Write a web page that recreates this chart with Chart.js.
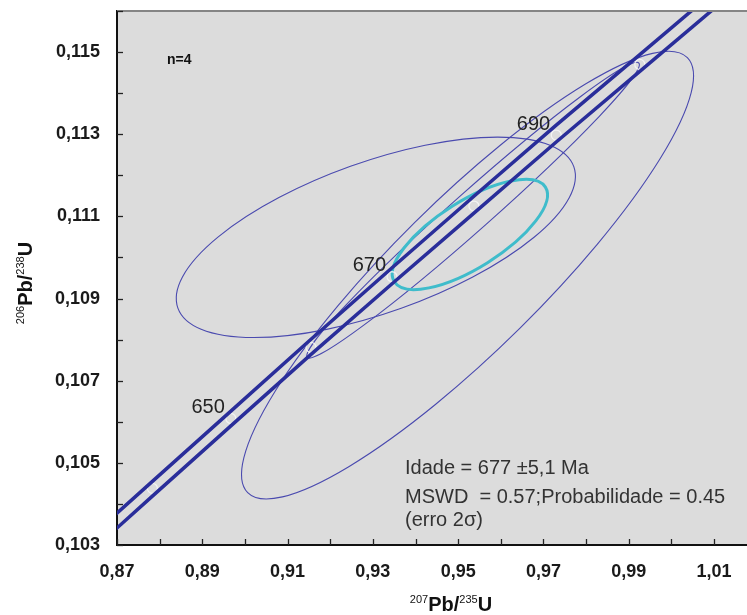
<!DOCTYPE html>
<html>
<head>
<meta charset="utf-8">
<script src="https://cdn.jsdelivr.net/npm/chart.js@4.4.1/dist/chart.umd.min.js"></script>
<style>
html, body { margin: 0; padding: 0; background: #fff; overflow: hidden; }
#chart { display: block; }
</style>
</head>
<body>
<canvas id="chart" width="754" height="615"></canvas>
<script>
// concordia read at the age marks (Ma)
const ages = [620, 630, 640, 650, 660, 670, 680, 690, 700, 710];
const concX = [0.8416, 0.8598, 0.8783, 0.8967, 0.9155, 0.9345, 0.9537, 0.9730, 0.9926, 1.0123];
const concY = [0.10095, 0.10266, 0.10438, 0.10608, 0.10781, 0.10953, 0.11125, 0.11298, 0.11470, 0.11643];
// the two edges of the decay constant band
const bandUpperY = [0.10110, 0.10282, 0.10455, 0.10626, 0.10801, 0.10975, 0.11149, 0.11322, 0.11494, 0.11667];
const bandLowerY = [0.10075, 0.10246, 0.10419, 0.10590, 0.10764, 0.10936, 0.11108, 0.11281, 0.11453, 0.11626];
const labelledAges = [650, 670, 690];

// analyses: centre, half extent in x and y, correlation
const ellX = [0.9307, 0.9522, 0.9535];
const ellY = [0.11049, 0.10957, 0.11115];
const ellSx = [0.0468, 0.0530, 0.0390];
const ellSy = [0.00244, 0.00545, 0.00360];
const ellRho = [0.61, 0.89, 0.985];

// concordia age ellipse
const ageX = [0.95275];
const ageY = [0.11056];
const ageSx = [0.01819];
const ageSy = [0.001341];
const ageRho = [0.72];

const xMin = 0.87, xMax = 1.0179, xStep = 0.01;
const yMin = 0.103, yMax = 0.116, yStep = 0.001;

const infoLines = ['Idade = 677 \u00b15,1 Ma', 'MSWD  = 0.57;Probabilidade = 0.45', '(erro 2\u03c3)'];

const FONT = '"Liberation Sans", Arial, sans-serif';
const BAND = '#2a2e9a';

function drawEllipse(ctx, xs, ys, cx, cy, sx, sy, rho) {
    const px = xs.getPixelForValue(cx), py = ys.getPixelForValue(cy);
    const a = Math.abs(xs.getPixelForValue(cx + sx) - px);
    const b = Math.abs(ys.getPixelForValue(cy + sy) - py);
    const c01 = -rho * a * b;
    const mid = (a * a + b * b) / 2, dif = (a * a - b * b) / 2;
    const r = Math.sqrt(dif * dif + c01 * c01);
    const ang = 0.5 * Math.atan2(2 * c01, a * a - b * b);
    ctx.beginPath();
    ctx.ellipse(px, py, Math.sqrt(mid + r), Math.sqrt(Math.max(mid - r, 0.01)), ang, 0, 2 * Math.PI);
    ctx.stroke();
}

// 207Pb/235U style label, centred on x at baseline y
function drawIsoTitle(ctx, parts, x, y) {
    const big = 'bold 20px ' + FONT, small = '11px ' + FONT;
    let w = 0;
    parts.forEach(p => { ctx.font = p[1] ? small : big; w += ctx.measureText(p[0]).width; });
    let cx = x - w / 2;
    ctx.textAlign = 'left';
    ctx.textBaseline = 'alphabetic';
    parts.forEach(p => {
        ctx.font = p[1] ? small : big;
        ctx.fillText(p[0], cx, p[1] ? y - 8 : y);
        cx += ctx.measureText(p[0]).width;
    });
}

const decorations = {
    id: 'decorations',
    beforeDraw(chart) {
        const {ctx, chartArea: a} = chart;
        ctx.save();
        ctx.fillStyle = '#dcdcdc';
        ctx.fillRect(a.left, a.top, a.right - a.left, a.bottom - a.top);
        ctx.restore();
    },
    beforeDatasetsDraw(chart) {
        const {ctx, chartArea: a, scales: {x, y}} = chart;
        ctx.save();
        ctx.beginPath();
        ctx.rect(a.left, a.top, a.right - a.left, a.bottom - a.top);
        ctx.clip();
        ctx.strokeStyle = '#4a4aaf';
        ctx.lineWidth = 1.1;
        ellX.forEach((v, i) => drawEllipse(ctx, x, y, v, ellY[i], ellSx[i], ellSy[i], ellRho[i]));
        ctx.strokeStyle = '#3fbccb';
        ctx.lineWidth = 3;
        ageX.forEach((v, i) => drawEllipse(ctx, x, y, v, ageY[i], ageSx[i], ageSy[i], ageRho[i]));
        ctx.restore();
    },
    afterDraw(chart) {
        const {ctx, chartArea: a, scales: {x, y}} = chart;
        ctx.save();

        // top frame line
        ctx.strokeStyle = '#858585';
        ctx.lineWidth = 2;
        ctx.beginPath();
        ctx.moveTo(a.left, a.top);
        ctx.lineTo(a.right, a.top);
        ctx.stroke();

        // tick marks pointing inside
        ctx.strokeStyle = '#222';
        ctx.lineWidth = 1.3;
        x.ticks.forEach(t => {
            const px = Math.round(x.getPixelForValue(t.value)) + 0.5;
            ctx.beginPath();
            ctx.moveTo(px, a.bottom);
            ctx.lineTo(px, a.bottom - 6);
            ctx.stroke();
        });
        y.ticks.forEach(t => {
            const py = Math.round(y.getPixelForValue(t.value)) + 0.5;
            ctx.beginPath();
            ctx.moveTo(a.left, py);
            ctx.lineTo(a.left + 6, py);
            ctx.stroke();
        });

        // age labels on the concordia
        ctx.fillStyle = '#222';
        ctx.font = '20px ' + FONT;
        ctx.textAlign = 'right';
        ctx.textBaseline = 'middle';
        labelledAges.forEach(age => {
            const i = ages.indexOf(age);
            const px = x.getPixelForValue(concX[i]), py = y.getPixelForValue(concY[i]);
            ctx.fillText(String(age), px - 6, py - 11);
        });

        // n=4
        ctx.font = 'bold 14px ' + FONT;
        ctx.textAlign = 'left';
        ctx.fillStyle = '#111';
        ctx.fillText('n=4', 167, 60);

        // result text
        ctx.font = '20px ' + FONT;
        ctx.fillStyle = '#333';
        ctx.fillText(infoLines[0], 405, 468);
        ctx.fillText(infoLines[1], 405, 497);
        ctx.fillText(infoLines[2], 405, 520);

        // axis titles
        ctx.fillStyle = '#111';
        drawIsoTitle(ctx, [['207', true], ['Pb/', false], ['235', true], ['U', false]], 451, 611);
        ctx.save();
        ctx.translate(32, 283);
        ctx.rotate(-Math.PI / 2);
        drawIsoTitle(ctx, [['206', true], ['Pb/', false], ['238', true], ['U', false]], 0, 0);
        ctx.restore();

        ctx.restore();
    }
};

const bandPts = arr => concX.map((v, i) => ({x: v, y: arr[i]}));

new Chart(document.getElementById('chart'), {
    type: 'scatter',
    data: {
        datasets: [
            {
                data: bandPts(bandUpperY),
                showLine: true,
                borderColor: BAND,
                borderWidth: 3.5,
                pointRadius: 0,
                tension: 0
            },
            {
                data: bandPts(bandLowerY),
                showLine: true,
                borderColor: BAND,
                borderWidth: 3.5,
                pointRadius: 0,
                tension: 0
            },
            {
                data: bandPts(concY),
                showLine: false,
                pointRadius: 5,
                pointStyle: 'circle',
                borderColor: 'rgba(245,245,245,0.9)',
                backgroundColor: 'rgba(0,0,0,0)',
                borderWidth: 1.3
            }
        ]
    },
    options: {
        responsive: false,
        animation: false,
        layout: { padding: { top: 11, right: 0, left: 0, bottom: 0 } },
        plugins: {
            legend: { display: false },
            tooltip: { enabled: false }
        },
        scales: {
            x: {
                type: 'linear',
                min: xMin,
                max: xMax,
                afterFit: s => { s.height = 70; s.paddingLeft = 0; s.paddingRight = 0; },
                grid: { display: false, drawTicks: false },
                border: { display: true, color: '#111', width: 2 },
                ticks: {
                    stepSize: xStep,
                    includeBounds: false,
                    autoSkip: false,
                    maxRotation: 0,
                    padding: 16,
                    color: '#1a1a1a',
                    font: { family: FONT, size: 18, weight: 'bold' },
                    callback: v => Math.round(v * 100) % 2 === 1 ? v.toFixed(2).replace('.', ',') : ''
                }
            },
            y: {
                type: 'linear',
                min: yMin,
                max: yMax,
                afterFit: s => { s.width = 117; s.paddingTop = 0; s.paddingBottom = 0; },
                grid: { display: false, drawTicks: false },
                border: { display: true, color: '#111', width: 2 },
                ticks: {
                    stepSize: yStep,
                    includeBounds: false,
                    autoSkip: false,
                    padding: 17,
                    color: '#1a1a1a',
                    font: { family: FONT, size: 18, weight: 'bold' },
                    callback: v => Math.round(v * 1000) % 2 === 1 ? v.toFixed(3).replace('.', ',') : ''
                }
            }
        }
    },
    plugins: [decorations]
});
</script>
</body>
</html>
